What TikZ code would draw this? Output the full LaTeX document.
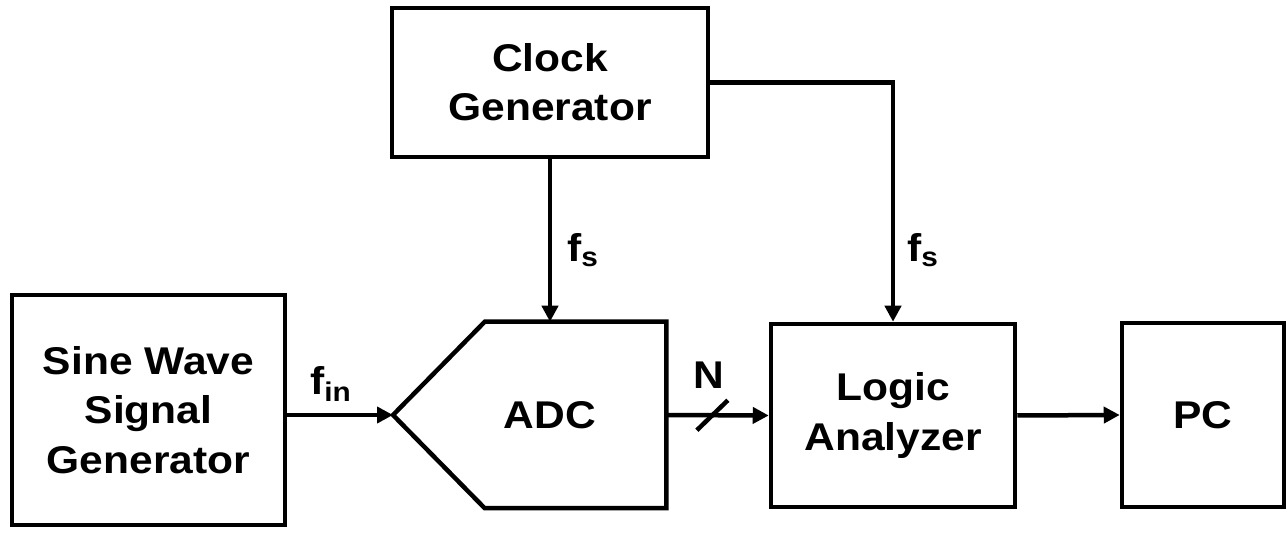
\documentclass[tikz,border=0pt]{standalone}
\usepackage{fontspec}
\setmainfont{Liberation Sans}[FakeStretch=1.1]
\usepackage{tikz}
\usetikzlibrary{calc,arrows.meta}
\definecolor{ink}{HTML}{000000}
\tikzset{blk/.style={rectangle,draw=ink,line width=0.09cm,align=center,inner sep=0pt,font=\fontsize{22}{28}\selectfont\bfseries},
sig/.style={draw=ink,line width=0.09cm,-{Triangle[length=0.32cm,width=0.32cm]}},
lbl/.style={inner sep=0pt,font=\fontsize{22}{26}\selectfont\bfseries}}

\begin{document}
\begin{tikzpicture}
\useasboundingbox (0,0) rectangle (25.74,-10.66);
\node[blk,minimum width=5.46cm,minimum height=4.6cm] (sine) at (2.97,-8.2) {Sine Wave\\Signal\\Generator};
\node[blk,minimum width=6.32cm,minimum height=2.98cm] (clock) at (11.0,-1.65) {Clock\\Generator};
\node[blk,draw=none,minimum width=3.54cm,minimum height=3.64cm] (adc) at (11.51,-8.3) {};
\node[lbl] (adclbl) at (11.0,-8.3) {ADC};
\node[blk,minimum width=4.88cm,minimum height=3.66cm] (logic) at (17.86,-8.31) {Logic\\Analyzer};
\node[blk,minimum width=3.24cm,minimum height=3.68cm] (pc) at (24.06,-8.3) {PC};
\coordinate (tip) at (7.86,-8.3);
\draw[ink,line width=0.09cm,line join=miter] (adc.north west) -- (adc.north east) -- (adc.south east) -- (adc.south west) -- (tip) -- cycle;
\draw[sig] (sine.east |- tip) -- (tip);
\draw[sig] (clock.south) -- (clock.south |- adc.north);
\draw[sig] (clock.east) -| (logic.north);
\draw[sig] (adc.east) -- (logic.west);
\draw[sig] (logic.east) -- (pc.west);
\coordinate (bus) at ($(adc.east)!0.45!(logic.west)$);
\draw[ink,line width=0.09cm] ($(bus)+(-0.31,-0.3)$) -- ($(bus)+(0.31,0.3)$);
\node[lbl] (fin) at (6.62,-7.68) {f\textsubscript{in}};
\node[lbl] (fsa) at (11.66,-5.0) {f\textsubscript{s}};
\node[lbl] (fsb) at (18.46,-5.0) {f\textsubscript{s}};
\node[lbl] (nbits) at (14.18,-7.5) {N};
\end{tikzpicture}
\end{document}
